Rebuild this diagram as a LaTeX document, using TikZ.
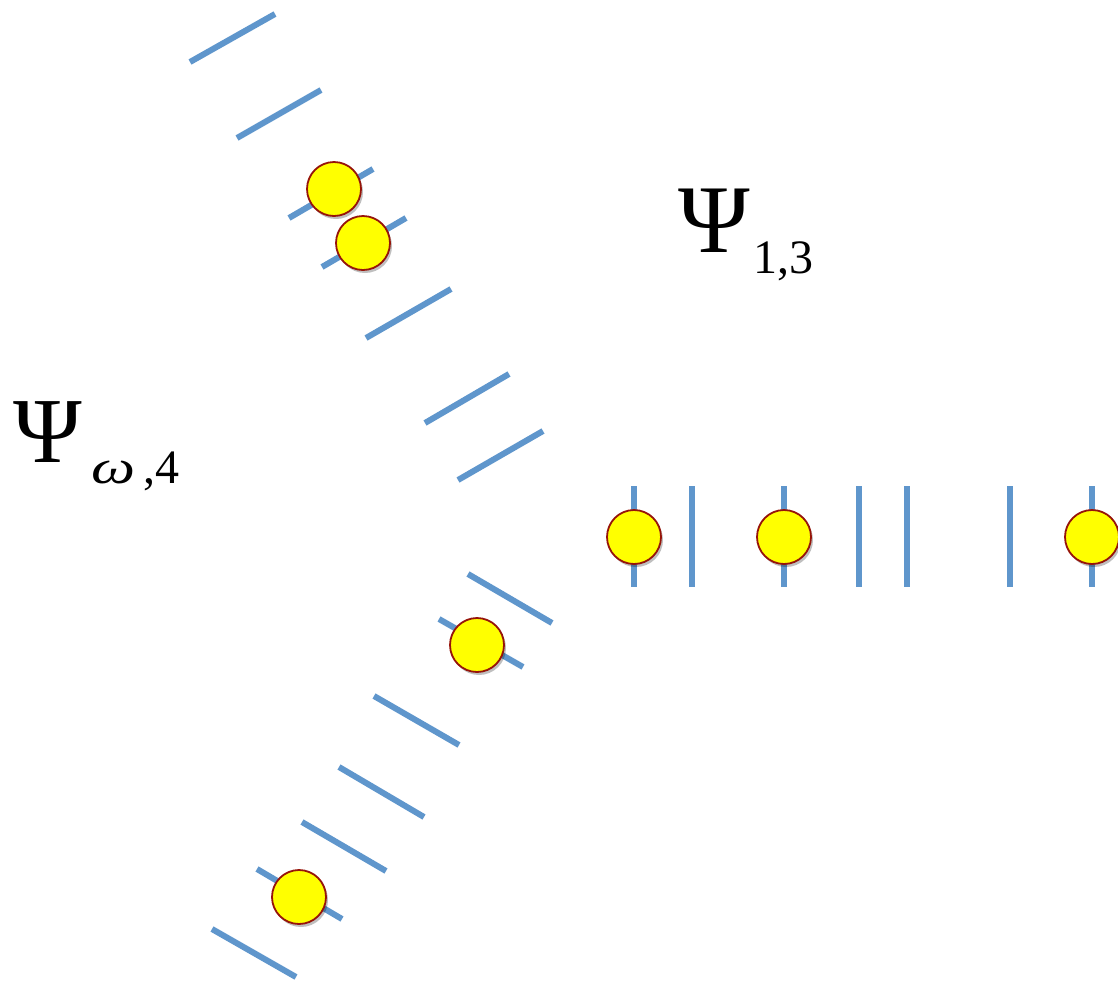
\documentclass[tikz,border=0pt]{standalone}
\usepackage{fontspec}
\usepackage{graphicx}
\setmainfont{Liberation Serif}
\usetikzlibrary{shadows}
\definecolor{barblue}{RGB}{95,150,204}
\definecolor{dotfill}{RGB}{255,255,0}
\definecolor{dotedge}{RGB}{150,20,10}
\tikzset{
  bar/.style={draw=barblue,line width=6pt},
  dot/.style={circle,fill=dotfill,draw=dotedge,line width=1.8pt,minimum size=54pt,inner sep=0pt,
    drop shadow={shadow xshift=2pt,shadow yshift=-3pt,opacity=0.25,fill=black}},
  bigA/.style={font=\fontsize{97}{97}\selectfont,inner sep=0pt,anchor=base west},
  bigB/.style={font=\fontsize{93}{93}\selectfont,inner sep=0pt,anchor=base west},
  sub/.style={font=\fontsize{48}{48}\selectfont,inner sep=0pt,anchor=base west}
}
\begin{document}
\begin{tikzpicture}[x=1pt,y=-1pt]
\useasboundingbox (0,0) rectangle (1118,983);
% upper arm
\foreach \i/\ax/\ay/\bx/\by in {1/190/62/275/14, 2/237/138/321/90, 3/289/218/373/169, 4/322/267/406/218, 5/366/338/451/289, 6/425/423/509/374, 7/458/480/543/431}{
  \coordinate (ua\i) at (\ax,\ay);
  \coordinate (ub\i) at (\bx,\by);
  \draw[bar] (ua\i) -- (ub\i);
}
% right arm
\foreach \i/\x in {1/634, 2/692, 3/784, 4/859, 5/907, 6/1010, 7/1092}{
  \coordinate (ra\i) at (\x,486);
  \coordinate (rb\i) at (\x,587);
  \draw[bar] (ra\i) -- (rb\i);
}
% lower arm
\foreach \i/\ax/\ay/\bx/\by in {1/468/574/552/623, 2/439/619/523/667, 3/374/696/459/745, 4/339/767/424/817, 5/302/822/386/871, 6/257/869/342/919, 7/212/929/296/977}{
  \coordinate (la\i) at (\ax,\ay);
  \coordinate (lb\i) at (\bx,\by);
  \draw[bar] (la\i) -- (lb\i);
}
% dots
\node[dot] (d1) at (334,189) {};
\node[dot] (d2) at (363,243) {};
\node[dot] (d3) at (634,537) {};
\node[dot] (d4) at (784,537) {};
\node[dot] (d5) at (1092,537) {};
\node[dot] (d6) at (477,645) {};
\node[dot] (d7) at (299,897) {};
% labels
\node[bigA] (psiA) at (678,252) {Ψ};
\node[sub] (subA) at (753,273) {1,3};
\node[bigB] (psiB) at (13,462) {Ψ};
\node[sub] (subB) at (91,483) {\scalebox{1.3}[1]{\textit{ω}}\,,4};
\end{tikzpicture}
\end{document}
